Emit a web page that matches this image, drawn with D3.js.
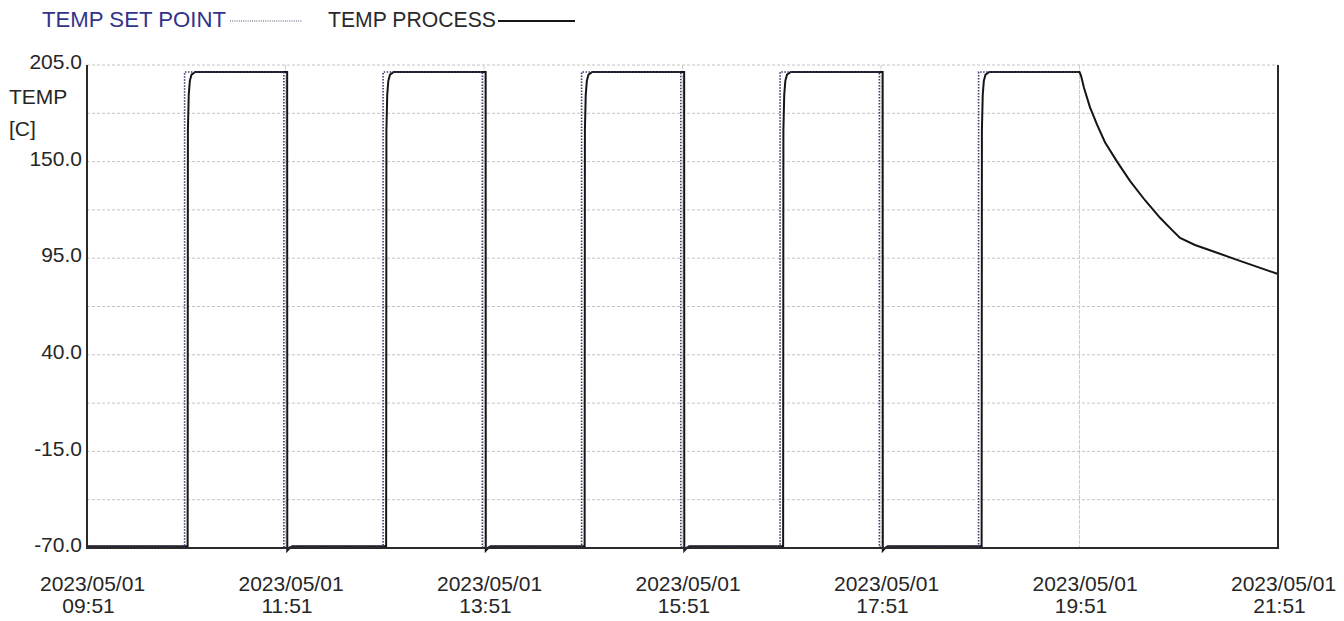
<!DOCTYPE html>
<html>
<head>
<meta charset="utf-8">
<script src="https://cdn.jsdelivr.net/npm/d3@7"></script>
<style>
  html, body { margin: 0; padding: 0; background: #fff; }
  svg { display: block; }
  text { font-family: "Liberation Sans", Arial, sans-serif; }
</style>
</head>
<body>
<svg id="chart" width="1344" height="621"></svg>
<script>
// ---------------- DATA ----------------
const dateLabel = "2023/05/01";
const xTickTimes = ["09:51", "11:51", "13:51", "15:51", "17:51", "19:51", "21:51"];
const yTickValues = [205, 150, 95, 40, -15, -70];
const yGridValues = [205, 177.5, 150, 122.5, 95, 67.5, 40, 12.5, -15, -42.5];

const seriesNames = ["TEMP SET POINT", "TEMP PROCESS"];

// TEMP SET POINT (time, °C)
const setPointTimes = [
  "09:51:00", "10:50:00", "10:50:00", "11:50:00", "11:50:00",
  "12:50:00", "12:50:00", "13:50:00", "13:50:00",
  "14:50:00", "14:50:00", "15:50:00", "15:50:00",
  "16:50:00", "16:50:00", "17:50:00", "17:50:00",
  "18:50:00", "18:50:00", "19:51:00"
];
const setPointValues = [
  -69.5, -69.5, 201, 201, -69.5,
  -69.5, 201, 201, -69.5,
  -69.5, 201, 201, -69.5,
  -69.5, 201, 201, -69.5,
  -69.5, 201, 201
];

// TEMP PROCESS (time, °C)
const processTimes = [
  "09:51:00", "10:51:50", "10:52:00", "10:52:30", "10:53:10", "10:54:10", "10:56:30", "11:52:00", "11:52:05", "11:53:00", "11:55:00",
  "12:51:50", "12:52:00", "12:52:30", "12:53:10", "12:54:10", "12:56:30", "13:52:00", "13:52:05", "13:53:00", "13:55:00",
  "14:51:50", "14:52:00", "14:52:30", "14:53:10", "14:54:10", "14:56:30", "15:52:00", "15:52:05", "15:53:00", "15:55:00",
  "16:51:50", "16:52:00", "16:52:30", "16:53:10", "16:54:10", "16:56:30", "17:52:00", "17:52:05", "17:53:00", "17:55:00",
  "18:51:50", "18:52:00", "18:52:30", "18:53:10", "18:54:10", "18:56:30",
  "19:51:00", "19:51:54", "19:53:42", "19:57:18", "20:01:36", "20:06:24", "20:13:42", "20:21:30",
  "20:30:36", "20:39:42", "20:47:00", "20:51:48", "21:00:48", "21:12:54", "21:28:00", "21:40:12", "21:51:00"
];
const processValues = [
  -69, -69, 168, 188, 196, 199.5, 201, 201, -71.5, -70.5, -69,
  -69, 168, 188, 196, 199.5, 201, 201, -71.5, -70.5, -69,
  -69, 168, 188, 196, 199.5, 201, 201, -71.5, -70.5, -69,
  -69, 168, 188, 196, 199.5, 201, 201, -71.5, -70.5, -69,
  -69, 168, 188, 196, 199.5, 201,
  201, 199, 192, 181, 171, 161, 150, 139,
  128, 118, 111, 106.5, 102.5, 98.5, 93.5, 89.5, 86
];

// ---------------- CHART ----------------
const parseT = d3.timeParse("%Y/%m/%d %H:%M:%S");
const toDate = t => parseT(dateLabel + " " + (t.length === 5 ? t + ":00" : t));
const locale = d3.formatLocale({ decimal: ".", thousands: ",", grouping: [3], currency: ["", ""], minus: "-" });

const svg = d3.select("#chart");
const margin = { left: 87, right: 66, top: 65, bottom: 73 };
const W = 1344, H = 621;

const x = d3.scaleTime()
  .domain([toDate(xTickTimes[0]), toDate(xTickTimes[xTickTimes.length - 1])])
  .range([margin.left, W - margin.right]);
const y = d3.scaleLinear()
  .domain([-70, 205])
  .range([H - margin.bottom, margin.top]);

const fontSize = 21;
const textColor = "#262626";
const gridColor = "#c4c4c4";
const axisColor = "#2a2a2a";

// horizontal grid
svg.append("g").selectAll("line").data(yGridValues).join("line")
  .attr("x1", x.range()[0]).attr("x2", x.range()[1])
  .attr("y1", d => y(d)).attr("y2", d => y(d))
  .attr("stroke", gridColor).attr("stroke-width", 1)
  .attr("stroke-dasharray", "3,2");

// vertical grid at labelled times
svg.append("g").selectAll("line").data(xTickTimes.slice(1, -1)).join("line")
  .attr("x1", d => x(toDate(d))).attr("x2", d => x(toDate(d)))
  .attr("y1", y.range()[1]).attr("y2", y.range()[0])
  .attr("stroke", "#cccccc").attr("stroke-width", 1)
  .attr("stroke-dasharray", "4,1");

// Y axis labels via d3.axisLeft
const yAxis = svg.append("g")
  .attr("transform", `translate(${margin.left},0)`)
  .call(d3.axisLeft(y).tickValues(yTickValues).tickFormat(locale.format(".1f")).tickSize(0).tickPadding(5));
yAxis.select(".domain").remove();
yAxis.selectAll("text")
  .attr("font-family", "Liberation Sans, Arial, sans-serif")
  .attr("font-size", fontSize)
  .attr("fill", textColor)
  .attr("dy", "0.18em");

// Y title
svg.append("text").attr("x", 9).attr("y", 104)
  .attr("font-size", fontSize).attr("fill", textColor).text("TEMP");
svg.append("text").attr("x", 9).attr("y", 136)
  .attr("font-size", fontSize).attr("fill", textColor).text("[C]");

// X axis via d3.axisBottom with two-line labels
const xAxis = svg.append("g")
  .attr("transform", `translate(0,${H - margin.bottom})`)
  .call(d3.axisBottom(x).tickValues(xTickTimes.map(toDate)).tickSize(0).tickFormat(() => ""));
xAxis.select(".domain").remove();
xAxis.selectAll(".tick").each(function(d, i) {
  const g = d3.select(this);
  g.select("text").remove();
  const t = g.append("text")
    .attr("font-size", fontSize).attr("fill", textColor).attr("text-anchor", "middle");
  t.append("tspan").attr("x", 5).attr("y", 43).text(dateLabel);
  t.append("tspan").attr("x", 1).attr("y", 65).text(xTickTimes[i]);
});

// data lines
const line = d3.line().x(d => x(d[0])).y(d => y(d[1]));
const spData = setPointTimes.map((t, i) => [toDate(t), setPointValues[i]]);
const prData = processTimes.map((t, i) => [toDate(t), processValues[i]]);

svg.append("path").datum(prData)
  .attr("d", line).attr("fill", "none")
  .attr("stroke", "#151515").attr("stroke-width", 2);

svg.append("path").datum(spData)
  .attr("d", line).attr("fill", "none")
  .attr("stroke", "#3a3a70").attr("stroke-width", 1.6)
  .attr("stroke-dasharray", "1.5,1.5");

// frame: left, bottom, right
const [x0, x1] = x.range();
const [yb, yt] = y.range();
svg.append("path")
  .attr("d", `M${x0},${yt}V${yb}H${x1}V${yt}`)
  .attr("fill", "none").attr("stroke", axisColor).attr("stroke-width", 2);

// legend
const legend = svg.append("g");
legend.append("text").attr("x", 42).attr("y", 27)
  .attr("font-size", 22).attr("fill", "#33338a")
  .attr("textLength", 184).attr("lengthAdjust", "spacingAndGlyphs").text(seriesNames[0]);
legend.append("line").attr("x1", 230).attr("x2", 302).attr("y1", 21).attr("y2", 21)
  .attr("stroke", "#555577").attr("stroke-width", 1.2).attr("stroke-dasharray", "1,1.2");
legend.append("text").attr("x", 328).attr("y", 27)
  .attr("font-size", 22).attr("fill", "#2a2a2a")
  .attr("textLength", 168).attr("lengthAdjust", "spacingAndGlyphs").text(seriesNames[1]);
legend.append("line").attr("x1", 498).attr("x2", 575).attr("y1", 21).attr("y2", 21)
  .attr("stroke", "#151515").attr("stroke-width", 2);
</script>
</body>
</html>
